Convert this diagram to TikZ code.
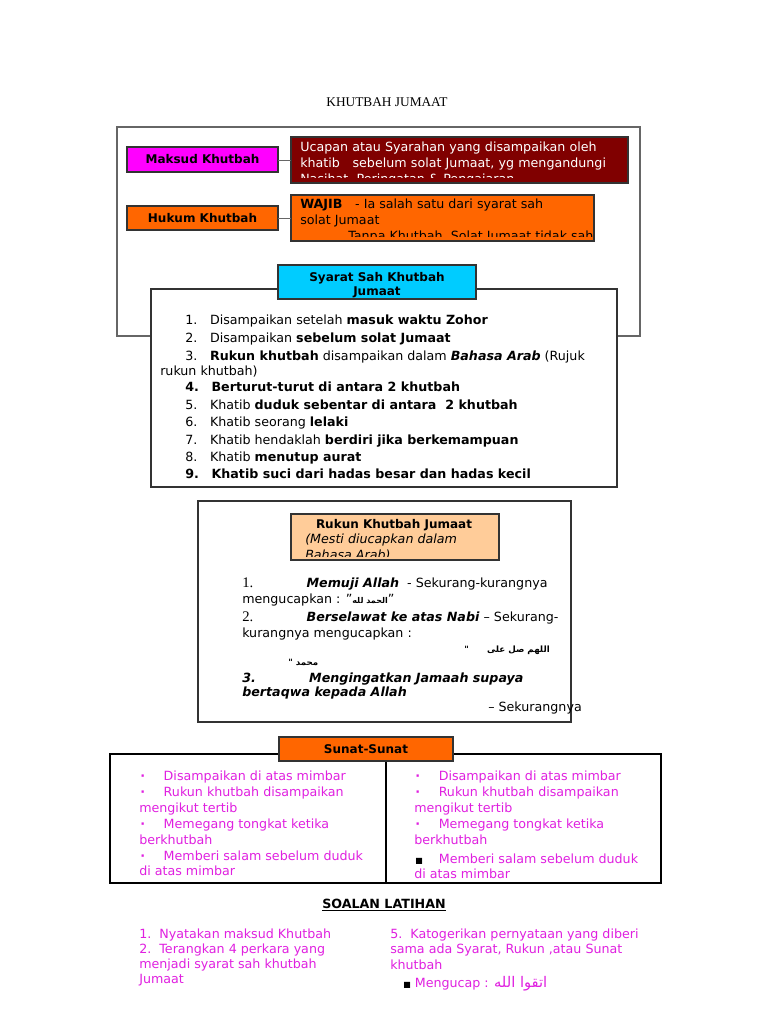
\documentclass[tikz,border=0pt]{standalone}
\usepackage{fontspec}
\setmainfont{DejaVu Sans}
\newfontfamily\titlefont{Liberation Serif}
\newfontfamily\arabicfont[Script=Arabic]{DejaVu Sans}
\TeXXeTstate=1
\definecolor{mag}{HTML}{FF00FF}
\definecolor{dred}{HTML}{800000}
\definecolor{org}{HTML}{FF6600}
\definecolor{cyanb}{HTML}{00CCFF}
\definecolor{peach}{HTML}{FFCC99}
\definecolor{pink}{HTML}{E020E0}
\newcommand{\sqb}{{\color{black}\fontsize{6}{7}\selectfont ■}}
\tikzset{
 box/.style={draw=black!80, line width=0.8pt},
 lbl/.style={font=\fontsize{9}{11}\selectfont\bfseries, inner sep=0pt},
 ln/.style={anchor=west, inner sep=0pt, font=\fontsize{9.5}{12}\selectfont},
 pk/.style={ln, text=pink},
}
\begin{document}
\begin{tikzpicture}[x=0.75pt,y=-0.75pt]
\useasboundingbox (0,0) rectangle (768,1024);
\fill[white] (0,0) rectangle (768,1024);
\node[inner sep=0pt, font=\titlefont\fontsize{10}{12}\selectfont] (title) at (387,102) {KHUTBAH JUMAAT};
% outer box
\draw[box, draw=black!60] (117,127) rectangle (640,336);
% Maksud
\draw[box, fill=mag] (127,147) rectangle (278,172);
\node[lbl] (maksud) at (202.5,159.5) {Maksud Khutbah};
\draw[box, fill=dred] (291,137) rectangle (628,183);
\draw[black!60] (278,160) -- (291,160);
\begin{scope}\clip (291,137) rectangle (628,177);
\node[anchor=north west, inner sep=0pt, text=white, font=\fontsize{9.5}{12}\selectfont, align=left, text width=240pt] (mdef) at (300,142) {Ucapan atau Syarahan yang disampaikan oleh khatib\ \ \ sebelum solat Jumaat, yg mengandungi Nasihat, Peringatan \& Pengajaran};
\end{scope}
% Hukum
\draw[box, fill=org] (127,206) rectangle (278,230);
\node[lbl] (hukum) at (202.5,218) {Hukum Khutbah};
\draw[box, fill=org] (291,195) rectangle (594,241);
\draw[black!60] (278,218) -- (291,218);
\begin{scope}\clip (291,195) rectangle (594,236);
\node[anchor=north west, inner sep=0pt, font=\fontsize{9.5}{12}\selectfont, align=left] (hdef) at (300,199) {\textbf{WAJIB}\quad - Ia salah satu dari syarat sah\\solat Jumaat\\\hspace*{36pt}Tanpa Khutbah, Solat Jumaat tidak sah};
\end{scope}
% Syarat list
\draw[box, fill=white] (151,289) rectangle (617,487);
\draw[box, fill=cyanb] (278,265) rectangle (476,299);
\begin{scope}\clip (278,265) rectangle (476,298);
\node[lbl, align=center] (syarat) at (377,285) {Syarat Sah Khutbah\\Jumaat};
\end{scope}
\node[ln] (s1) at (185,321) {1.\quad Disampaikan setelah \textbf{masuk waktu Zohor}};
\node[ln] (s2) at (185,339) {2.\quad Disampaikan \textbf{sebelum solat Jumaat}};
\node[ln] (s3) at (185,357) {3.\quad \textbf{Rukun khutbah} disampaikan dalam \textbf{\itshape Bahasa Arab} (Rujuk};
\node[ln] (s3b) at (160,372) {rukun khutbah)};
\node[ln] (s4) at (185,387) {\textbf{4.\quad Berturut-turut di antara 2 khutbah}};
\node[ln] (s5) at (185,405) {5.\quad Khatib \textbf{duduk sebentar di antara\ \ 2 khutbah}};
\node[ln] (s6) at (185,423) {6.\quad Khatib seorang \textbf{lelaki}};
\node[ln] (s7) at (185,441) {7.\quad Khatib hendaklah \textbf{berdiri jika berkemampuan}};
\node[ln] (s8) at (185,458) {8.\quad Khatib \textbf{menutup aurat}};
\node[ln] (s9) at (185,474) {\textbf{9.\quad Khatib suci dari hadas besar dan hadas kecil}};
% Rukun
\draw[box] (198,501) rectangle (571,722);
\draw[box, fill=peach] (291,514) rectangle (499,560);
\begin{scope}\clip (291,514) rectangle (499,556);
\node[lbl, anchor=north] (rukun) at (394,519) {Rukun Khutbah Jumaat};
\node[ln, font=\fontsize{9.5}{12}\selectfont\itshape] (rk2) at (305,540) {(Mesti diucapkan dalam};
\node[ln, font=\fontsize{9.5}{12}\selectfont\itshape] (rk3) at (305,556) {Bahasa Arab)};
\end{scope}
\node[ln] (r1) at (242,584) {{\titlefont\fontsize{11}{12}\selectfont 1.}\hspace{40pt}\textbf{\itshape Memuji Allah}\ \ - Sekurang-kurangnya};
\node[ln] (r1b) at (242,600) {mengucapkan : "{\arabicfont\fontsize{6}{7}\selectfont\bfseries\beginR الحمد لله\endR}"};
\node[ln] (r2) at (242,618) {{\titlefont\fontsize{11}{12}\selectfont 2.}\hspace{40pt}\textbf{\itshape Berselawat ke atas Nabi} – Sekurang-};
\node[ln] (r2b) at (242,634) {kurangnya mengucapkan :};
\node[ln, anchor=east, font=\arabicfont\fontsize{6.5}{7}\selectfont\bfseries] (r2c) at (550,650) {\beginR اللهم صل على \ \ \ \ \ "\endR};
\node[ln, font=\arabicfont\fontsize{6.5}{7}\selectfont\bfseries] (r2d) at (288,662) {\beginR محمد "\endR};
\node[ln, font=\fontsize{9.5}{12}\selectfont\bfseries\itshape] (r3) at (242,679) {3.\hspace{40pt}Mengingatkan Jamaah supaya};
\node[ln, font=\fontsize{9.5}{12}\selectfont\bfseries\itshape] (r3b) at (242,693) {bertaqwa kepada Allah};
\node[ln] (r3c) at (488,708) {– Sekurangnya};
% Sunat
\draw[line width=1pt] (110,754) rectangle (661,883);
\draw[line width=0.8pt] (386,754) -- (386,883);
\draw[box, fill=org] (279,737) rectangle (453,761);
\node[lbl] (sunat) at (366,749) {Sunat-Sunat};
\foreach \x/\n in {140/a,415/b}{
 \node[pk] (p1\n) at (\x,777) {\textbf{·}\hspace{14pt}Disampaikan di atas mimbar};
 \node[pk] (p2\n) at (\x,793) {\textbf{·}\hspace{14pt}Rukun khutbah disampaikan};
 \node[pk] (p3\n) at (\x-1,809) {mengikut tertib};
 \node[pk] (p4\n) at (\x,825) {\textbf{·}\hspace{14pt}Memegang tongkat ketika};
 \node[pk] (p5\n) at (\x-1,840) {berkhutbah};
}
\node[pk] (p6a) at (140,856) {\textbf{·}\hspace{14pt}Memberi salam sebelum duduk};
\node[pk] (p7a) at (139,871) {di atas mimbar};
\node[pk] (p6b) at (415,859) {\sqb\hspace{12pt}Memberi salam sebelum duduk};
\node[pk] (p7b) at (414,874) {di atas mimbar};
% Soalan
\node[inner sep=0pt, font=\fontsize{9.5}{12}\selectfont\bfseries] (soalan) at (384,905) {\underline{SOALAN LATIHAN}};
\node[pk] (q1) at (139,935) {1.\ \ Nyatakan maksud Khutbah};
\node[pk] (q2) at (139,950) {2.\ \ Terangkan 4 perkara yang};
\node[pk] (q2b) at (139,965) {menjadi syarat sah khutbah};
\node[pk] (q2c) at (139,980) {Jumaat};
\node[pk] (q5) at (390,935) {5.\ \ Katogerikan pernyataan yang diberi};
\node[pk] (q5b) at (390,950) {sama ada Syarat, Rukun ,atau Sunat};
\node[pk] (q5c) at (390,965) {khutbah};
\node[pk] (q6) at (403,984) {\sqb\ Mengucap : {\arabicfont\fontsize{11}{12}\selectfont\beginR اتقوا الله\endR}};
\end{tikzpicture}
\end{document}
